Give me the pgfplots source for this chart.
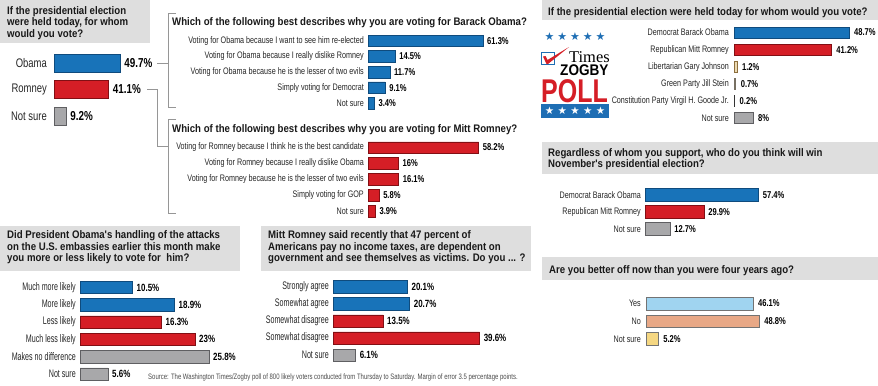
\documentclass[border=0pt]{standalone}
\usepackage{fontspec}
\setmainfont{Liberation Sans}
\newfontfamily\cond[FakeStretch=0.76]{Liberation Sans}
\newfontfamily\condn[FakeStretch=0.65]{Liberation Sans}
\newfontfamily\hd[FakeStretch=0.88]{Liberation Sans}
\newfontfamily\serif{Liberation Serif}
\newfontfamily\sym{DejaVu Sans}
\usepackage{pgfplots}
\pgfplotsset{compat=1.18}

\definecolor{obl}{RGB}{24,115,185}
\definecolor{obld}{RGB}{15,75,125}
\definecolor{rred}{RGB}{213,30,38}
\definecolor{rredd}{RGB}{130,15,20}
\definecolor{gbar}{RGB}{168,168,170}
\definecolor{gbard}{RGB}{95,95,98}
\definecolor{hdr}{RGB}{222,222,222}
\definecolor{brk}{RGB}{150,150,150}
\definecolor{tanf}{RGB}{236,218,178}
\definecolor{tand}{RGB}{140,110,60}
\definecolor{stein}{RGB}{170,160,140}
\definecolor{yesb}{RGB}{160,212,240}
\definecolor{nob}{RGB}{232,168,134}
\definecolor{nsy}{RGB}{245,215,130}
\definecolor{logob}{RGB}{30,110,180}

\newcommand\fLabA{\cond\fontsize{12.5}{13}\selectfont}
\newcommand\fValA{\cond\bfseries\fontsize{13}{13}\selectfont}
\newcommand\fLab{\cond\fontsize{9.5}{10}\selectfont}
\newcommand\fVal{\cond\bfseries\fontsize{10}{10}\selectfont}
\newcommand\fLabN{\condn\fontsize{11}{11}\selectfont}
\newcommand\fValN{\cond\bfseries\fontsize{10.5}{11}\selectfont}
\newcommand\fHd{\hd\bfseries\fontsize{11}{11.5}\selectfont}

\pgfplotsset{
  hb/.style={
    xbar, bar shift=0pt, scale only axis, clip=false,
    axis line style={draw=none}, tick style={draw=none}, major tick length=0pt,
    xtick=\empty, xmin=0, y dir=reverse, enlargelimits=false,
    anchor=north west, point meta=x,
    nodes near coords={\pgfmathprintnumber[assume math mode=true]{\pgfplotspointmeta}\%},
    every node near coord/.append style={anchor=west, inner sep=0pt, text=black},
    yticklabel style={anchor=east, inner sep=0pt, text=black!85},
  },
  bl/.style={fill=obl, draw=obld, line width=0.5pt},
  rd/.style={fill=rred, draw=rredd, line width=0.5pt},
  gr/.style={fill=gbar, draw=gbard, line width=0.5pt},
}

\begin{document}
\begin{tikzpicture}
\path[use as bounding box, fill=white] (0,0) rectangle (878bp,-386bp);

\begin{scope}[x=1bp,y=-1bp]
% header boxes
\fill[hdr] (0,0) rectangle (150,43);
\fill[hdr] (542,0) rectangle (878,20);
\fill[hdr] (542,142) rectangle (878,174);
\fill[hdr] (542,257) rectangle (878,280);
\fill[hdr] (0,226) rectangle (240,271);
\fill[hdr] (261,226) rectangle (531,271);
% header texts
\begin{scope}[every node/.style={anchor=base west, inner sep=0pt, font=\fHd, text=black!90}]
\node at (7,14) {If the presidential election};
\node at (7,25.5) {were held today, for whom};
\node at (7,37) {would you vote?};
\node at (172,25) {Which of the following best describes why you are voting for Barack Obama?};
\node at (172,132) {Which of the following best describes why you are voting for Mitt Romney?};
\node at (548,15) {If the presidential election were held today for whom would you vote?};
\node at (548,156) {Regardless of whom you support, who do you think will win};
\node at (548,167) {November's presidential election?};
\node at (549,273) {Are you better off now than you were four years ago?};
\node at (7,238) {Did President Obama's handling of the attacks};
\node at (7,250) {on the U.S. embassies earlier this month make};
\node at (7,261) {you more or less likely to vote for\ \ him?};
\node at (268,238) {Mitt Romney said recently that 47 percent of};
\node at (268,250) {Americans pay no income taxes, are dependent on};
\node at (268,261) {government and see themselves as victims. Do you ... ?};
\end{scope}
% brackets
\draw[brk, line width=0.6pt] (176,13) -- (168,13) -- (168,107) -- (176,107);
\draw[brk, line width=0.6pt] (157,63) -- (168,63);
\draw[brk, line width=0.6pt] (176,119) -- (168,119) -- (168,213) -- (176,213);
\draw[brk, line width=0.6pt] (147,89) -- (157,89) -- (157,146) -- (168,146);
% logo
\foreach \i in {0,...,4} {
  \node[text=logob, font=\sym\fontsize{11}{11}\selectfont, inner sep=0pt] at (549.5+12.75*\i, 37) {★};
}
\draw[logob, line width=0.9pt] (541.5,52) rectangle (554,64);
\fill[rred] (543,56.5) -- (545.5,56) -- (547.5,60) -- (569,47) -- (548,64) -- (546.5,64) -- cycle;
\node[anchor=base west, inner sep=0pt, text height=11pt, text depth=0pt, font=\serif\fontsize{16.5}{16.5}\selectfont] at (569,62) {Times};
\node[anchor=base west, inner sep=0pt, text height=11pt, text depth=0pt, font=\hd\bfseries\fontsize{15.5}{15.5}\selectfont] at (560,75.5) {ZOGBY};
\node[anchor=base west, inner sep=0pt, text height=23pt, text depth=0pt, font=\cond\bfseries\fontsize{33}{33}\selectfont, text=rred] at (541,102) {POLL};
\fill[logob] (541,103.5) rectangle (609,117.5);
\foreach \i in {0,...,4} {
  \node[text=white, font=\sym\fontsize{10.5}{10.5}\selectfont, inner sep=0pt] at (549.5+12.75*\i, 110.5) {★};
}
% source
\node[anchor=base west, inner sep=0pt, font=\cond\fontsize{7.9}{8}\selectfont, text=black!70] at (148,379.5) {Source: The Washington Times/Zogby poll of 800 likely voters conducted from Thursday to Saturday. Margin of error 3.5 percentage points.};
\end{scope}

% Panel A
\begin{axis}[hb, at={(54bp,-49.75bp)}, width=79.8bp, xmax=60, height=79.5bp,
  ymin=-0.5, ymax=2.5, bar width=18bp, ytick={0,1,2},
  yticklabels={Obama,Romney,Not sure},
  yticklabel style={font=\fLabA, xshift=-7bp},
  every node near coord/.append style={font=\fValA, xshift=4bp}]
\addplot[bl] coordinates {(49.7,0)};
\addplot[rd] coordinates {(41.1,1)};
\addplot[gr] coordinates {(9.2,2)};
\end{axis}

% Panel B
\begin{axis}[hb, at={(368bp,-33bp)}, width=131.3bp, xmax=70, height=78bp,
  ymin=-0.5, ymax=4.5, bar width=11.5bp, ytick={0,...,4},
  yticklabels={Voting for Obama because I want to see him re-elected,Voting for Obama because I really dislike Romney,Voting for Obama because he is the lesser of two evils,Simply voting for Democrat,Not sure},
  yticklabel style={font=\fLab, xshift=-4bp},
  every node near coord/.append style={font=\fVal, xshift=4bp}]
\addplot[bl] coordinates {(61.3,0) (14.5,1) (11.7,2) (9.1,3) (3.4,4)};
\end{axis}

% Panel C
\begin{axis}[hb, at={(368bp,-139.55bp)}, width=133bp, xmax=70, height=79.5bp,
  ymin=-0.5, ymax=4.5, bar width=11.5bp, ytick={0,...,4},
  yticklabels={Voting for Romney because I think he is the best candidate,Voting for Romney because I really dislike Obama,Voting for Romney because he is the lesser of two evils,Simply voting for GOP,Not sure},
  yticklabel style={font=\fLab, xshift=-4bp},
  every node near coord/.append style={font=\fVal, xshift=4bp}]
\addplot[rd] coordinates {(58.2,0) (16,1) (16.1,2) (5.8,3) (3.9,4)};
\end{axis}

% Panel D
\begin{axis}[hb, at={(734bp,-23.95bp)}, width=129.8bp, xmax=55, height=102.6bp,
  ymin=-0.5, ymax=5.5, bar width=11bp, ytick={0,...,5},
  yticklabels={Democrat Barack Obama,Republican Mitt Romney,Libertarian Gary Johnson,Green Party Jill Stein,Constitution Party Virgil H. Goode Jr.,Not sure},
  yticklabel style={font=\fLab, xshift=-5bp},
  every node near coord/.append style={font=\fVal, xshift=5bp}]
\addplot[bl] coordinates {(48.7,0)};
\addplot[rd] coordinates {(41.2,1)};
\addplot[fill=tanf, draw=tand, line width=0.5pt] coordinates {(1.2,2)};
\addplot[fill=stein, draw=stein!70!black, line width=0.5pt] coordinates {(0.7,3)};
\addplot[fill=black!80, draw=black!80, line width=0.5pt] coordinates {(0.2,4)};
\addplot[gr] coordinates {(8,5)};
\end{axis}

% Panel E
\begin{axis}[hb, at={(645bp,-186.5bp)}, width=128.7bp, xmax=65, height=51bp,
  ymin=-0.5, ymax=2.5, bar width=13bp, ytick={0,1,2},
  yticklabels={Democrat Barack Obama,Republican Mitt Romney,Not sure},
  yticklabel style={font=\fLab, xshift=-4bp},
  every node near coord/.append style={font=\fVal, xshift=4bp}]
\addplot[bl] coordinates {(57.4,0)};
\addplot[rd] coordinates {(29.9,1)};
\addplot[gr] coordinates {(12.7,2)};
\end{axis}

% Panel F
\begin{axis}[hb, at={(646bp,-294.6bp)}, width=127.6bp, xmax=55, height=53.25bp,
  ymin=-0.5, ymax=2.5, bar width=12.7bp, ytick={0,1,2},
  yticklabels={Yes,No,Not sure},
  yticklabel style={font=\fLab, xshift=-5bp},
  every node near coord/.append style={font=\fVal, xshift=5bp}]
\addplot[fill=yesb, draw=black!55, line width=0.5pt] coordinates {(46.1,0)};
\addplot[fill=nob, draw=black!55, line width=0.5pt] coordinates {(48.8,1)};
\addplot[fill=nsy, draw=black!55, line width=0.5pt] coordinates {(5.2,2)};
\end{axis}

% Panel G
\begin{axis}[hb, at={(80bp,-278.85bp)}, width=150bp, xmax=30, height=103.8bp,
  ymin=-0.5, ymax=5.5, bar width=12.3bp, ytick={0,...,5},
  yticklabels={Much more likely,More likely,Less likely,Much less likely,Makes no difference,Not sure},
  yticklabel style={font=\fLabN, xshift=-4bp},
  every node near coord/.append style={font=\fValN, xshift=4bp}]
\addplot[bl] coordinates {(10.5,0) (18.9,1)};
\addplot[rd] coordinates {(16.3,2) (23,3)};
\addplot[gr] coordinates {(25.8,4) (5.6,5)};
\end{axis}

% Panel H
\begin{axis}[hb, at={(333bp,-278.15bp)}, width=155.4bp, xmax=42, height=85.5bp,
  ymin=-0.5, ymax=4.5, bar width=12.3bp, ytick={0,...,4},
  yticklabels={Strongly agree,Somewhat agree,Somewhat disagree,Somewhat disagree,Not sure},
  yticklabel style={font=\fLabN, xshift=-4bp},
  every node near coord/.append style={font=\fValN, xshift=4bp}]
\addplot[bl] coordinates {(20.1,0) (20.7,1)};
\addplot[rd] coordinates {(13.5,2) (39.6,3)};
\addplot[gr] coordinates {(6.1,4)};
\end{axis}

\end{tikzpicture}
\end{document}
